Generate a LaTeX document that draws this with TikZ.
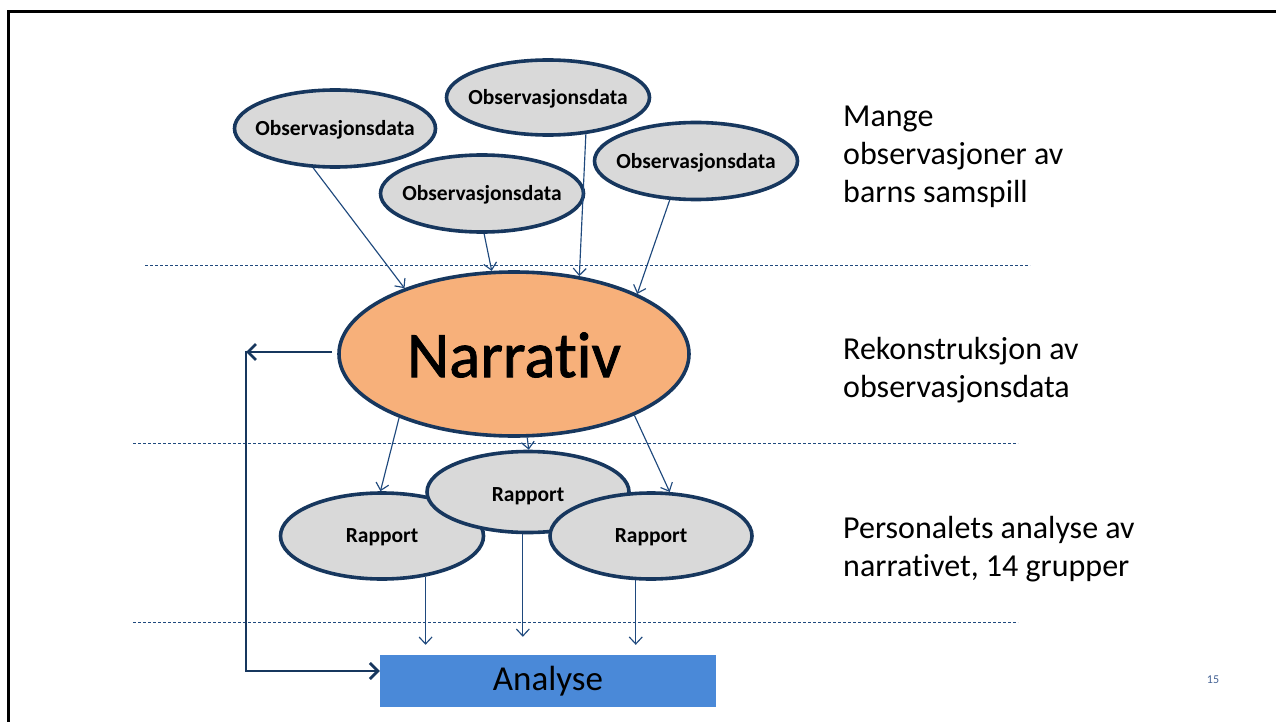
\documentclass[tikz,border=0pt]{standalone}
\usepackage{fontspec}
\setmainfont{Carlito}[Ligatures=NoCommon]
\newfontfamily\narrfont{Carlito}[Ligatures=NoCommon,FakeBold=1.3]
\usetikzlibrary{arrows.meta,calc,shapes.geometric}
\definecolor{navy}{RGB}{23,55,94}
\definecolor{arrowblue}{RGB}{31,73,125}
\definecolor{ellgray}{RGB}{217,217,217}
\definecolor{narrfill}{RGB}{247,176,122}
\definecolor{anafill}{RGB}{74,137,216}
\definecolor{pagenum}{RGB}{68,98,148}
\tikzset{
  obsell/.style={ellipse, draw=navy, line width=3.6pt, fill=ellgray, inner sep=0pt,
    minimum width=#1},
  obstext/.style={font=\fontsize{21.5}{24}\selectfont\bfseries, yshift=-1.5pt},
  thinarr/.style={draw=arrowblue, line width=1.15pt, -{Straight Barb[length=7pt,width=13pt]}},
  thickarr/.style={draw=navy, line width=2.8pt, -{Straight Barb[length=8pt,width=16pt]}},
  sepline/.style={draw=arrowblue, line width=1pt, dash pattern=on 3pt off 2pt},
  sidetext/.style={anchor=base west, align=left, inner sep=0pt, font=\fontsize{32}{37.5}\selectfont},
}
\begin{document}
\begin{tikzpicture}[x=1pt,y=-1pt]
\useasboundingbox (0,0) rectangle (1276,722);
% frame
\draw[line width=2.7pt, black] (8.7,722) -- (8.7,11.3) -- (1276,11.3);

% separator lines
\draw[sepline] (145,265) -- (1030,265);
\draw[sepline] (133,443) -- (1018,443);
\draw[sepline] (133,622) -- (1018,622);

% observation ellipses
\node[obsell=201pt, minimum height=77pt, label={[obstext]center:Observasjonsdata}] (o1) at (335,128.5) {};
\node[obsell=203pt, minimum height=75pt, label={[obstext]center:Observasjonsdata}] (o2) at (548,97.5) {};
\node[obsell=203pt, minimum height=77pt, label={[obstext]center:Observasjonsdata}] (o3) at (482,193.5) {};
\node[obsell=203pt, minimum height=77pt, label={[obstext]center:Observasjonsdata}] (o4) at (696,161) {};

% narrativ
\node[ellipse, draw=navy, line width=3.6pt, fill=narrfill, inner sep=0pt,
  minimum width=350pt, minimum height=164pt,
  label={[font=\narrfont\fontsize{65}{70}\selectfont, yshift=-1pt]center:Narrativ}] (narr) at (514,354) {};

% rapport ellipses
\node[obsell=203pt, minimum height=86pt, label={[obstext]center:Rapport}] (r1) at (382,536) {};
\node[obsell=202pt, minimum height=81pt, label={[obstext, yshift=-2.5pt]center:Rapport}] (r2) at (528,492) {};
\node[obsell=202pt, minimum height=86pt, label={[obstext]center:Rapport}] (r3) at (651,536) {};

% analyse box
\node[draw=none, fill=anafill, minimum width=336pt, minimum height=52pt, inner sep=0pt,
  font=\fontsize{35}{38}\selectfont] (an) at (548,681) {\raisebox{-2pt}{Analyse}};

% arrows obs -> narrativ
\draw[thinarr] (o1.241) -- (narr.149);
\draw[thinarr] (o3.273) -- (narr.105);
\draw[thinarr] (o2.316) -- (narr.50);
\draw[thinarr] (o4.236) -- (narr.26);

% arrows narrativ -> rapports
\draw[thinarr] (narr.209) -- (r1.92);
\draw[thinarr] (narr.279) -- (r2.89);
\draw[thinarr] (narr.333) -- (r3.67);

% arrows rapports -> analyse
\draw[thinarr, shorten >=10pt] (r1.317) -- (r1.317 |- an.north);
\draw[thinarr, shorten >=18pt] (r2.263) -- (r2.263 |- an.north);
\draw[thinarr, shorten >=10pt] (r3.251) -- (r3.251 |- an.north);

% feedback loop
\coordinate (fb) at (246,352);
\draw[thickarr, shorten <=5pt] (narr.west |- fb) -- (fb);
\draw[thickarr] ($(fb)+(0,-1.4)$) |- ([yshift=10pt]an.west);

% side texts (anchor at last baseline)
\node[sidetext] (t1) at (843,202) {Mange\\observasjoner av\\barns samspill};
\node[sidetext] (t2) at (843,397) {Rekonstruksjon av\\observasjonsdata};
\node[sidetext] (t3) at (843,576) {Personalets analyse av\\narrativet, 14 grupper};

% page number
\node[font=\fontsize{12}{14}\selectfont, text=pagenum] (pg) at (1213,680) {15};
\end{tikzpicture}
\end{document}
